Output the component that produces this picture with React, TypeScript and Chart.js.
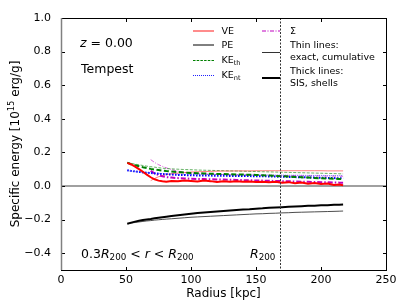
import React, { useEffect, useRef } from 'react';
import { Chart, registerables } from 'chart.js';
Chart.register(...registerables);

// ---- data ----
const radius = [51, 54, 57, 60, 63, 66, 69, 72, 75, 78, 81, 85, 90, 95, 100, 105, 110, 115, 120, 125, 130, 135, 140, 145, 150, 155, 160, 165, 170, 175, 180, 185, 190, 195, 200, 205, 210, 214, 217];

const veShell = [0.138, 0.128, 0.115, 0.100, 0.085, 0.068, 0.052, 0.040, 0.032, 0.028, 0.026, 0.030, 0.028, 0.032, 0.030, 0.027, 0.032, 0.029, 0.024, 0.028, 0.025, 0.028, 0.026, 0.027, 0.024, 0.026, 0.022, 0.025, 0.020, 0.023, 0.017, 0.021, 0.014, 0.018, 0.012, 0.015, 0.006, 0.009, 0.004];
const veCum = [null, null, null, null, null, null, 0.032, 0.045, 0.055, 0.062, 0.068, 0.073, 0.077, 0.080, 0.083, 0.085, 0.086, 0.087, 0.088, 0.089, 0.089, 0.090, 0.090, 0.090, 0.091, 0.091, 0.091, 0.091, 0.091, 0.091, 0.091, 0.091, 0.091, 0.091, 0.091, 0.090, 0.090, 0.090, 0.090];

const peShell = [-0.225, -0.218, -0.212, -0.207, -0.203, -0.199, -0.196, -0.192, -0.189, -0.186, -0.183, -0.179, -0.174, -0.169, -0.165, -0.161, -0.158, -0.155, -0.152, -0.149, -0.146, -0.143, -0.140, -0.138, -0.135, -0.133, -0.130, -0.128, -0.126, -0.124, -0.122, -0.120, -0.118, -0.117, -0.115, -0.114, -0.112, -0.111, -0.110];
const peCum = [-0.225, -0.221, -0.217, -0.214, -0.211, -0.208, -0.206, -0.203, -0.201, -0.199, -0.197, -0.195, -0.192, -0.189, -0.186, -0.184, -0.182, -0.180, -0.178, -0.176, -0.174, -0.172, -0.170, -0.168, -0.166, -0.165, -0.163, -0.162, -0.160, -0.159, -0.157, -0.156, -0.155, -0.154, -0.153, -0.152, -0.151, -0.150, -0.149];

const keThShell = [0.138, 0.130, 0.124, 0.118, 0.112, 0.107, 0.102, 0.098, 0.095, 0.092, 0.089, 0.086, 0.083, 0.080, 0.078, 0.076, 0.075, 0.073, 0.072, 0.071, 0.070, 0.069, 0.068, 0.067, 0.066, 0.064, 0.062, 0.060, 0.058, 0.056, 0.054, 0.052, 0.050, 0.048, 0.046, 0.045, 0.043, 0.042, 0.040];
const keThCum = [0.140, 0.135, 0.130, 0.126, 0.122, 0.118, 0.115, 0.112, 0.109, 0.106, 0.104, 0.102, 0.100, 0.098, 0.097, 0.095, 0.094, 0.093, 0.092, 0.091, 0.090, 0.089, 0.088, 0.087, 0.086, 0.085, 0.084, 0.083, 0.082, 0.081, 0.080, 0.079, 0.078, 0.077, 0.076, 0.075, 0.074, 0.073, 0.072];

const keNtShell = [0.094, 0.090, 0.087, 0.084, 0.081, 0.079, 0.077, 0.075, 0.073, 0.071, 0.070, 0.068, 0.066, 0.065, 0.064, 0.063, 0.062, 0.062, 0.061, 0.061, 0.060, 0.060, 0.059, 0.059, 0.058, 0.058, 0.057, 0.056, 0.055, 0.054, 0.053, 0.052, 0.051, 0.050, 0.049, 0.048, 0.047, 0.046, 0.045];
const keNtCum = [0.091, 0.088, 0.085, 0.083, 0.081, 0.079, 0.078, 0.076, 0.075, 0.074, 0.073, 0.072, 0.071, 0.070, 0.070, 0.069, 0.069, 0.068, 0.068, 0.068, 0.067, 0.067, 0.067, 0.066, 0.066, 0.066, 0.065, 0.065, 0.065, 0.064, 0.064, 0.064, 0.063, 0.063, 0.063, 0.062, 0.062, 0.062, 0.062];

const sigmaShell = [null, null, null, null, null, null, 0.090, 0.075, 0.065, 0.058, 0.053, 0.050, 0.047, 0.045, 0.043, 0.042, 0.041, 0.040, 0.039, 0.038, 0.037, 0.036, 0.035, 0.034, 0.033, 0.032, 0.031, 0.030, 0.029, 0.028, 0.027, 0.026, 0.025, 0.024, 0.023, 0.022, 0.021, 0.020, 0.020];
const sigmaCum = [null, null, null, null, null, null, 0.157, 0.140, 0.127, 0.117, 0.108, 0.098, 0.088, 0.081, 0.077, 0.074, 0.072, 0.070, 0.069, 0.068, 0.067, 0.066, 0.066, 0.065, 0.065, 0.064, 0.064, 0.063, 0.063, 0.062, 0.062, 0.061, 0.061, 0.060, 0.060, 0.059, 0.059, 0.058, 0.058];

const xTicks = [0, 50, 100, 150, 200, 250];
const yTicks = [-0.4, -0.2, 0.0, 0.2, 0.4, 0.6, 0.8, 1.0];
const r200 = 168.7;

const FAM = '"DejaVu Sans"';

type Part = { t: string; it?: boolean; sub?: boolean; sup?: boolean };

function drawParts(ctx: CanvasRenderingContext2D, x: number, y: number, parts: Part[], size: number, align: 'left' | 'center' = 'left') {
  const fontFor = (p: Part) => `${p.it ? 'italic ' : ''}${p.sub || p.sup ? size * 0.7 : size}px ${FAM}`;
  let total = 0;
  const ws = parts.map((p) => {
    ctx.font = fontFor(p);
    const w = ctx.measureText(p.t).width;
    total += w;
    return w;
  });
  let cx = align === 'center' ? x - total / 2 : x;
  ctx.textAlign = 'left';
  ctx.textBaseline = 'alphabetic';
  parts.forEach((p, i) => {
    ctx.font = fontFor(p);
    const dy = p.sub ? size * 0.22 : p.sup ? -size * 0.4 : 0;
    ctx.fillText(p.t, cx, y + dy);
    cx += ws[i];
  });
}

function seg(ctx: CanvasRenderingContext2D, x1: number, y1: number, x2: number, y2: number) {
  ctx.beginPath();
  ctx.moveTo(x1, y1);
  ctx.lineTo(x2, y2);
  ctx.stroke();
}

const deco = {
  id: 'deco',
  beforeDatasetsDraw(chart: any) {
    const { ctx, chartArea: a, scales } = chart;
    const y0 = scales.y.getPixelForValue(0);
    ctx.save();
    ctx.strokeStyle = '#808080';
    ctx.lineWidth = 1.5;
    seg(ctx, a.left, y0, a.right, y0);
    ctx.restore();
  },
  afterDatasetsDraw(chart: any) {
    const { ctx, chartArea: a, scales } = chart;
    const xr = Math.round(scales.x.getPixelForValue(r200)) + 0.5;
    ctx.save();
    ctx.strokeStyle = '#333333';
    ctx.lineWidth = 1;
    ctx.setLineDash([2, 1.5]);
    seg(ctx, xr, a.top, xr, a.bottom);
    ctx.restore();
  },
  afterDraw(chart: any) {
    const { ctx, chartArea: a, scales } = chart;
    const L = Math.round(a.left) + 0.5;
    const R = Math.round(a.right) + 0.5;
    const T = Math.round(a.top) + 0.5;
    const B = Math.round(a.bottom) + 0.5;
    ctx.save();
    // frame
    ctx.strokeStyle = '#000';
    ctx.lineWidth = 1;
    ctx.strokeRect(L, T, R - L, B - T);
    // ticks inward
    const tl = 3.5;
    xTicks.forEach((v) => {
      const px = Math.round(scales.x.getPixelForValue(v)) + 0.5;
      seg(ctx, px, B, px, B - tl);
      seg(ctx, px, T, px, T + tl);
    });
    yTicks.forEach((v) => {
      const py = Math.round(scales.y.getPixelForValue(v)) + 0.5;
      seg(ctx, L, py, L + tl, py);
      seg(ctx, R, py, R - tl, py);
    });
    // gray x=0 line
    ctx.strokeStyle = '#808080';
    ctx.lineWidth = 1.5;
    const x0 = scales.x.getPixelForValue(0);
    seg(ctx, x0 + 0.5, a.top, x0 + 0.5, a.bottom);

    ctx.fillStyle = '#000';
    // axis titles
    ctx.font = `12px ${FAM}`;
    ctx.textAlign = 'center';
    ctx.textBaseline = 'middle';
    ctx.fillText('Radius [kpc]', (a.left + a.right) / 2, 294);
    ctx.save();
    ctx.translate(15, (a.top + a.bottom) / 2);
    ctx.rotate(-Math.PI / 2);
    drawParts(ctx, 0, 4, [{ t: 'Specific energy [10' }, { t: '15', sup: true }, { t: ' erg/g]' }], 12, 'center');
    ctx.restore();

    // annotations
    drawParts(ctx, 80, 46.5, [{ t: 'z', it: true }, { t: ' = 0.00' }], 12.5);
    drawParts(ctx, 81, 72.5, [{ t: 'Tempest' }], 12.5);
    drawParts(ctx, 81, 257.5, [
      { t: '0.3' }, { t: 'R', it: true }, { t: '200', sub: true },
      { t: ' < ' }, { t: 'r', it: true }, { t: ' < ' },
      { t: 'R', it: true }, { t: '200', sub: true },
    ], 12.5);
    drawParts(ctx, 250, 257.5, [{ t: 'R', it: true }, { t: '200', sub: true }], 12.5);

    // legend
    const fs = 9.5;
    const bl = (c: number) => c + fs * 0.36;
    const legLine = (x1: number, x2: number, y: number, color: string, w: number, dash: number[]) => {
      ctx.save();
      ctx.strokeStyle = color;
      ctx.lineWidth = w;
      ctx.setLineDash(dash);
      seg(ctx, x1, y, x2, y);
      ctx.restore();
    };
    legLine(193, 214, 31, '#ff4040', 1.2, []);
    legLine(193, 214, 45, '#000', 1, []);
    legLine(193, 214, 60.5, '#008000', 1, [2.5, 1.2]);
    legLine(193, 214, 75.5, '#2020ff', 1, [1, 1]);
    drawParts(ctx, 221.5, bl(31), [{ t: 'VE' }], fs);
    drawParts(ctx, 221.5, bl(44.5), [{ t: 'PE' }], fs);
    drawParts(ctx, 221.5, bl(59.5), [{ t: 'KE' }, { t: 'th', sub: true }], fs);
    drawParts(ctx, 221.5, bl(74.5), [{ t: 'KE' }, { t: 'nt', sub: true }], fs);

    legLine(262, 280, 31, '#bf00bf', 1, [4, 1.5, 1, 1.5]);
    legLine(262, 280, 52.5, '#333', 1, []);
    legLine(262, 280, 78, '#000', 2, []);
    drawParts(ctx, 290, bl(31), [{ t: 'Σ' }], fs);
    drawParts(ctx, 290, bl(45), [{ t: 'Thin lines:' }], fs);
    drawParts(ctx, 290, bl(57), [{ t: 'exact, cumulative' }], fs);
    drawParts(ctx, 290, bl(71), [{ t: 'Thick lines:' }], fs);
    drawParts(ctx, 290, bl(82.5), [{ t: 'SIS, shells' }], fs);
    ctx.restore();
  },
};

export default function App() {
  const ref = useRef<HTMLCanvasElement>(null);
  useEffect(() => {
    document.body.style.margin = '0';
    const canvas = ref.current!;
    const pts = (ys: (number | null)[]) => radius.map((x, i) => ({ x, y: ys[i] }));
    const ds = (label: string, ys: (number | null)[], color: string, width: number, dash: number[] = []) => ({
      label,
      data: pts(ys),
      borderColor: color,
      backgroundColor: color,
      borderWidth: width,
      borderDash: dash,
      pointRadius: 0,
      fill: false,
      tension: 0,
      spanGaps: false,
    });
    const chart = new Chart(canvas, {
      type: 'line',
      data: {
        datasets: [
          ds('VE shells', veShell, '#ff0000', 2),
          ds('PE shells', peShell, '#000000', 2),
          ds('KEth shells', keThShell, '#008000', 2, [5, 2.5]),
          ds('KEnt shells', keNtShell, '#0000ff', 2, [1.5, 1.5]),
          ds('Sigma shells', sigmaShell, '#bf00bf', 2, [5, 2, 1.5, 2]),
          ds('VE cum', veCum, 'rgba(255,0,0,0.5)', 1),
          ds('PE cum', peCum, 'rgba(0,0,0,0.7)', 1),
          ds('KEth cum', keThCum, 'rgba(0,128,0,0.6)', 1, [3, 1.5]),
          ds('KEnt cum', keNtCum, 'rgba(0,0,255,0.5)', 1, [1, 1]),
          ds('Sigma cum', sigmaCum, 'rgba(191,0,191,0.6)', 1, [4, 1.5, 1, 1.5]),
        ] as any,
      },
      options: {
        animation: false,
        responsive: false,
        maintainAspectRatio: false,
        events: [],
        layout: { padding: { top: 18, right: 21, left: 0, bottom: 0 } },
        plugins: { legend: { display: false }, tooltip: { enabled: false }, title: { display: false } },
        scales: {
          x: {
            type: 'linear',
            min: 0,
            max: 250,
            grid: { display: false, drawTicks: false },
            border: { display: false },
            afterFit: (s: any) => { s.height = 35; },
            afterBuildTicks: (s: any) => { s.ticks = xTicks.map((v) => ({ value: v })); },
            ticks: {
              padding: 4,
              color: '#000',
              font: { family: 'DejaVu Sans', size: 11 },
              maxRotation: 0,
              autoSkip: false,
              callback: (v: any) => String(v),
            },
          },
          y: {
            type: 'linear',
            min: -0.5,
            max: 1.0,
            grid: { display: false, drawTicks: false },
            border: { display: false },
            afterFit: (s: any) => { s.width = 61; },
            afterBuildTicks: (s: any) => { s.ticks = yTicks.map((v) => ({ value: v })); },
            ticks: {
              padding: 10,
              color: '#000',
              font: { family: 'DejaVu Sans', size: 11 },
              autoSkip: false,
              callback: (v: any) => {
                const n = Number(v);
                const s = Math.abs(n).toFixed(1);
                return n < -1e-9 ? '\u2212' + s : s;
              },
            },
          },
        },
      },
      plugins: [deco],
    });
    return () => chart.destroy();
  }, []);
  return <canvas ref={ref} width={407} height={305} style={{ display: 'block', width: 407, height: 305 }} />;
}
